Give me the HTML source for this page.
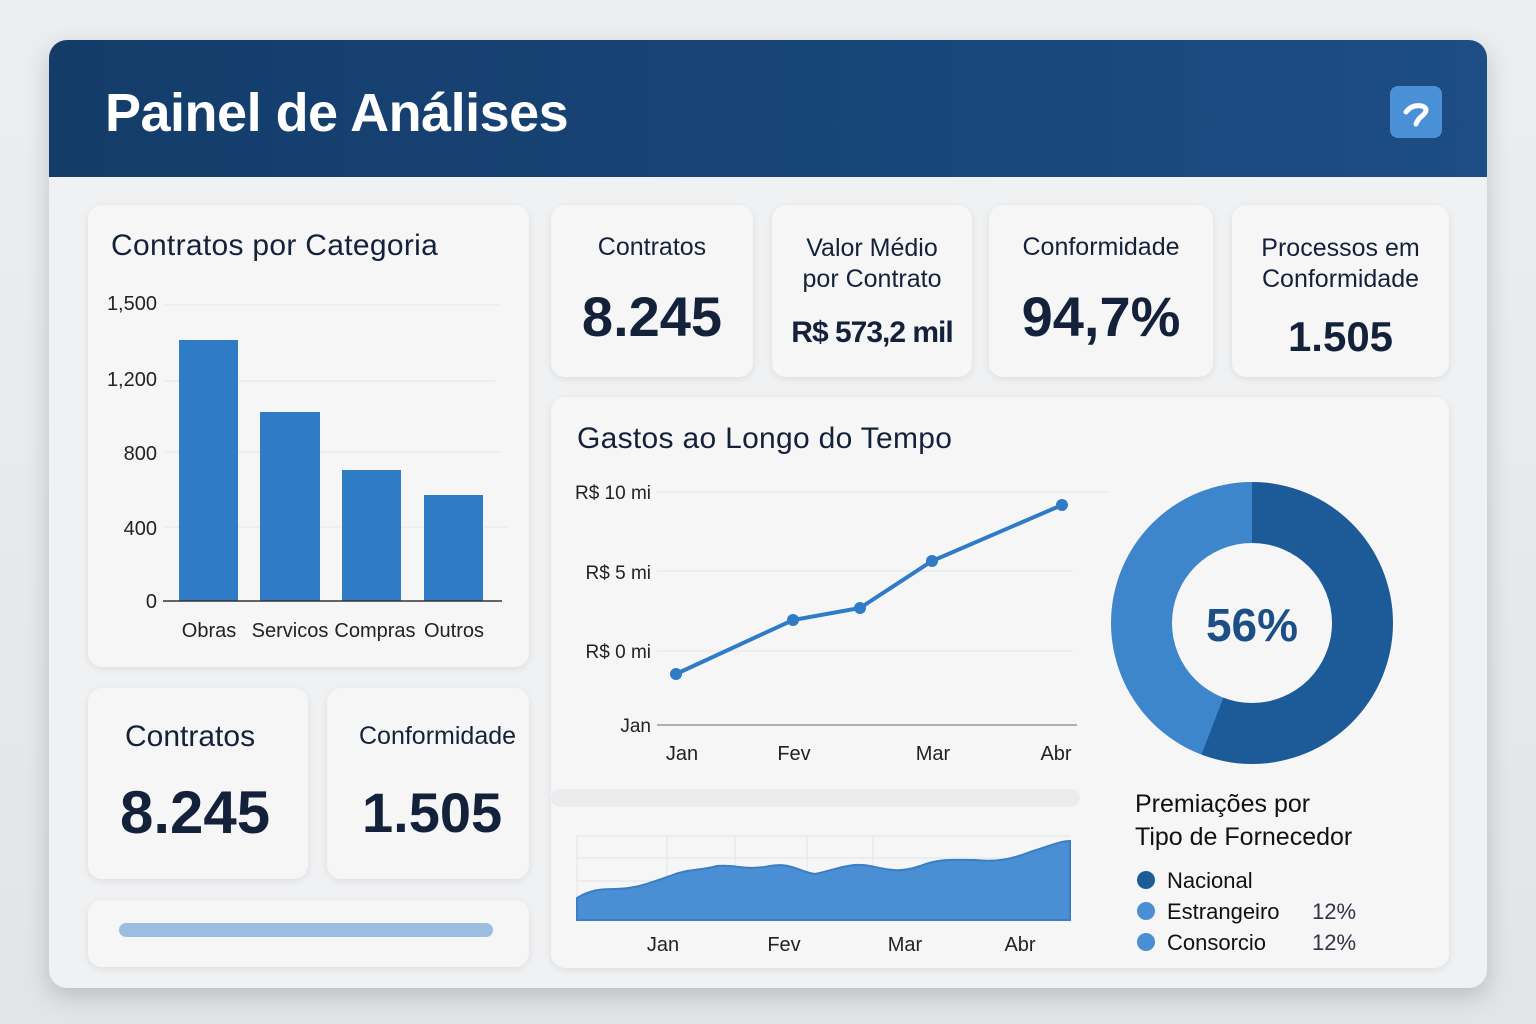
<!DOCTYPE html><html><head><meta charset="utf-8"><style>
body{margin:0;width:1536px;height:1024px;background:linear-gradient(#eceef0,#e2e4e7);font-family:"Liberation Sans",sans-serif;position:relative;overflow:hidden;color:#14213a}
.a{position:absolute}
.panel{left:49px;top:40px;width:1438px;height:948px;background:#f0f1f2;border-radius:18px;box-shadow:0 8px 24px rgba(0,0,0,.18);overflow:hidden}
.hdr{left:0;top:0;width:1438px;height:137px;background:linear-gradient(90deg,#133c69,#1d4d85)}
.card{position:absolute;background:#f6f6f7;border-radius:14px;box-shadow:0 2px 8px rgba(0,0,0,.08)}
.t{position:absolute;white-space:nowrap}
.c{text-align:center}
</style></head><body>
<div class="a panel">
<div class="a hdr"></div>
<div class="t" style="left:56px;top:42px;font-size:54px;font-weight:bold;color:#fff;letter-spacing:-0.5px">Painel de Análises</div>
<div class="a" style="left:1341px;top:46px;width:52px;height:52px;background:#4a90d6;border-radius:8px"></div>
<svg class="a" style="left:1341px;top:46px" width="52" height="52"><path d="M16 26 Q22 18 32 20 Q40 23 32 30 Q28 33 26 38" stroke="#fff" stroke-width="5" fill="none" stroke-linecap="round"/></svg>
</div>

<div class="card" style="left:88px;top:205px;width:441px;height:462px"></div>
<div class="t" style="left:111px;top:229px;font-size:30px;letter-spacing:0.3px">Contratos por Categoria</div>
<svg class="a" style="left:0;top:0" width="1536" height="1024">
<g stroke="#e4e5e7" stroke-width="1"><line x1="165" y1="305" x2="500" y2="305"/><line x1="165" y1="381" x2="495" y2="381"/><line x1="165" y1="452" x2="500" y2="452"/><line x1="165" y1="527" x2="508" y2="527"/></g>
<g fill="#2f7bc6"><rect x="179" y="340" width="59" height="261"/><rect x="260" y="412" width="60" height="189"/><rect x="342" y="470" width="59" height="131"/><rect x="424" y="495" width="59" height="106"/></g>
<line x1="163" y1="601" x2="502" y2="601" stroke="#333" stroke-width="1.5"/>
<g font-size="20" fill="#222" text-anchor="end" font-family="Liberation Sans"><text x="157" y="310">1,500</text><text x="157" y="386">1,200</text><text x="157" y="460">800</text><text x="157" y="535">400</text><text x="157" y="608">0</text></g>
<g font-size="20" fill="#222" text-anchor="middle" font-family="Liberation Sans"><text x="209" y="637">Obras</text><text x="290" y="637">Servicos</text><text x="375" y="637">Compras</text><text x="454" y="637">Outros</text></g>
</svg>

<div class="card" style="left:551px;top:205px;width:202px;height:172px"></div>
<div class="card" style="left:772px;top:205px;width:200px;height:172px"></div>
<div class="card" style="left:989px;top:205px;width:224px;height:172px"></div>
<div class="card" style="left:1232px;top:205px;width:217px;height:172px"></div>
<div class="t c" style="left:551px;width:202px;top:233px;font-size:25px">Contratos</div>
<div class="t c" style="left:551px;width:202px;top:284px;font-size:56px;font-weight:bold">8.245</div>
<div class="t c" style="left:772px;width:200px;top:233px;font-size:25px;line-height:31px">Valor Médio<br>por Contrato</div>
<div class="t c" style="left:772px;width:200px;top:316px;font-size:30px;font-weight:bold;letter-spacing:-1px">R$ 573,2 mil</div>
<div class="t c" style="left:989px;width:224px;top:233px;font-size:25px">Conformidade</div>
<div class="t c" style="left:989px;width:224px;top:284px;font-size:56px;font-weight:bold">94,7%</div>
<div class="t c" style="left:1232px;width:217px;top:233px;font-size:25px;line-height:31px">Processos em<br>Conformidade</div>
<div class="t c" style="left:1232px;width:217px;top:313px;font-size:42px;font-weight:bold">1.505</div>

<div class="card" style="left:88px;top:688px;width:220px;height:191px"></div>
<div class="card" style="left:327px;top:688px;width:202px;height:191px"></div>
<div class="t" style="left:125px;top:720px;font-size:30px">Contratos</div>
<div class="t" style="left:120px;top:778px;font-size:60px;font-weight:bold">8.245</div>
<div class="t" style="left:359px;top:722px;font-size:25px">Conformidade</div>
<div class="t" style="left:362px;top:780px;font-size:56px;font-weight:bold">1.505</div>
<div class="card" style="left:88px;top:900px;width:441px;height:67px"></div>
<div class="a" style="left:119px;top:923px;width:374px;height:14px;border-radius:7px;background:#9dbde0"></div>

<div class="card" style="left:551px;top:397px;width:898px;height:571px"></div>
<div class="a" style="left:551px;top:789px;width:529px;height:18px;background:#ebeced;border-radius:9px"></div>
<div class="t" style="left:577px;top:422px;font-size:30px;letter-spacing:0.3px">Gastos ao Longo do Tempo</div>
<svg class="a" style="left:0;top:0" width="1536" height="1024">
<g stroke="#e4e5e7"><line x1="657" y1="492" x2="1110" y2="492"/><line x1="657" y1="571" x2="1073" y2="571"/><line x1="657" y1="651" x2="1073" y2="651"/></g>
<line x1="657" y1="725" x2="1077" y2="725" stroke="#999" stroke-width="1.5"/>
<g font-size="19" fill="#222" text-anchor="end" font-family="Liberation Sans"><text x="651" y="499">R$ 10 mi</text><text x="651" y="579">R$ 5 mi</text><text x="651" y="658">R$ 0 mi</text><text x="651" y="732">Jan</text></g>
<g font-size="20" fill="#222" text-anchor="middle" font-family="Liberation Sans"><text x="682" y="760">Jan</text><text x="794" y="760">Fev</text><text x="933" y="760">Mar</text><text x="1056" y="760">Abr</text></g>
<polyline points="676,674 793,620 860,608 932,561 1062,505" fill="none" stroke="#2f7bc6" stroke-width="4"/>
<g fill="#2f7bc6"><circle cx="676" cy="674" r="6"/><circle cx="793" cy="620" r="6"/><circle cx="860" cy="608" r="6"/><circle cx="932" cy="561" r="6"/><circle cx="1062" cy="505" r="6"/></g>
<g stroke="#e3e4e6"><line x1="577" y1="836" x2="1070" y2="836"/><line x1="577" y1="858" x2="1070" y2="858"/><line x1="577" y1="881" x2="1070" y2="881"/><line x1="577" y1="900" x2="1070" y2="900"/><line x1="577" y1="836" x2="577" y2="920"/><line x1="667" y1="836" x2="667" y2="920"/><line x1="735" y1="836" x2="735" y2="920"/><line x1="807" y1="836" x2="807" y2="920"/><line x1="873" y1="836" x2="873" y2="920"/></g>
<path d="M577 898 C590 890 600 889 615 889 C635 889 650 883 670 876 C690 868 700 871 717 866 C735 864 745 871 770 866 C790 862 800 872 815 874 C835 870 850 862 870 866 C890 870 900 873 920 866 C940 858 955 860 975 860 C995 862 1010 860 1030 852 C1050 846 1060 841 1070 841 L1070 920 L577 920Z" fill="#4a8fd3" stroke="#3a7fc6" stroke-width="2"/>
<g font-size="20" fill="#222" text-anchor="middle" font-family="Liberation Sans"><text x="663" y="951">Jan</text><text x="784" y="951">Fev</text><text x="905" y="951">Mar</text><text x="1020" y="951">Abr</text></g>
<g fill="#1d5c9a"><circle cx="1146" cy="880" r="9"/></g><g fill="#4a8fd3"><circle cx="1146" cy="911" r="9"/><circle cx="1146" cy="942" r="9"/></g>
<g font-size="22" fill="#111" font-family="Liberation Sans"><text x="1167" y="888">Nacional</text><text x="1167" y="919">Estrangeiro</text><text x="1167" y="950">Consorcio</text><text x="1312" y="919" fill="#334">12%</text><text x="1312" y="950" fill="#334">12%</text></g>
<g font-size="25" fill="#111" font-family="Liberation Sans"><text x="1135" y="812">Premiações por</text><text x="1135" y="845">Tipo de Fornecedor</text></g>
</svg>
<div class="a" style="left:1111px;top:482px;width:282px;height:282px;border-radius:50%;background:conic-gradient(#1c5b98 0 201deg,#3d86cc 201deg 360deg)"></div>
<div class="a" style="left:1172px;top:543px;width:160px;height:160px;border-radius:50%;background:#f6f6f7"></div>
<div class="t c" style="left:1172px;width:160px;top:598px;font-size:46px;font-weight:bold;color:#1c4f86">56%</div>
</body></html>
